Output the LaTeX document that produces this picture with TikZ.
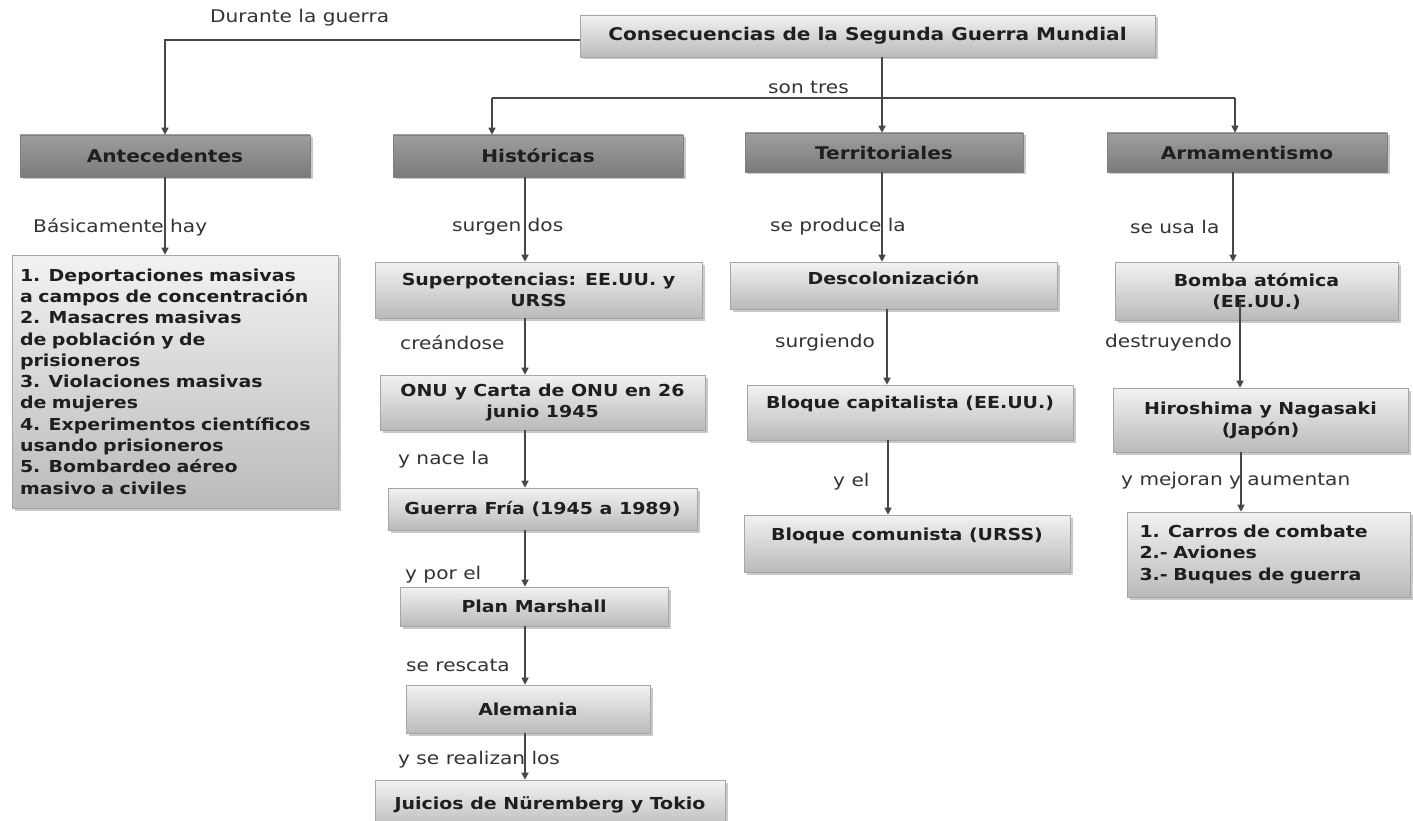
\documentclass[tikz,border=0pt]{standalone}
\usepackage{fontspec}
\setmainfont[FakeStretch=1.15]{DejaVu Sans}
\usetikzlibrary{arrows.meta,shadows}
\begin{document}
\begin{tikzpicture}[x=1pt,y=-1pt,
  box/.style={draw=black!35, line width=0.6pt, top color=black!5, bottom color=black!27,
    drop shadow={shadow xshift=2.5pt, shadow yshift=-2.5pt, fill=black!35, opacity=0.6},
    font=\bfseries\fontsize{16.5}{21}\selectfont, text=black!88, align=center, inner sep=2pt},
  head/.style={box, font=\bfseries\fontsize{17.5}{21}\selectfont},
  cat/.style={head, top color=black!38, bottom color=black!52, draw=black!50},
  lbl/.style={font=\fontsize{17.5}{21}\selectfont, text=black!80, anchor=west, inner sep=0pt},
  ln/.style={draw=black!72, line width=1.3pt},
  arr/.style={ln, -{Triangle[length=7pt,width=7pt]}}
]
\fill[white] (0,0) rectangle (1413,821);
\useasboundingbox (0,0) rectangle (1413,821);

% nodes
\node[head, minimum width=575, minimum height=42] (title) at (867.5,36) {Consecuencias de la Segunda Guerra Mundial};
\node[cat, minimum width=290, minimum height=42] (ant) at (165,156) {Antecedentes};
\node[cat, minimum width=290, minimum height=42] (his) at (538,156) {Históricas};
\node[cat, minimum width=278, minimum height=39] (ter) at (884,152.5) {Territoriales};
\node[cat, minimum width=280, minimum height=39] (arm) at (1247,152.5) {Armamentismo};

\node[box, minimum width=326, minimum height=253, align=left, text width=310,
  font=\bfseries\fontsize{16.5}{21.3}\selectfont] (list) at (175,381.5)
  {1. Deportaciones masivas\\a campos de concentración\\2. Masacres masivas\\de población y de\\prisioneros\\3. Violaciones masivas\\de mujeres\\4. Experimentos científicos\\usando prisioneros\\5. Bombardeo aéreo\\masivo a civiles};

\node[box, minimum width=327, minimum height=56] (sup) at (538.5,290) {Superpotencias: EE.UU. y\\URSS};
\node[box, minimum width=325, minimum height=55] (onu) at (542.5,402.5) {ONU y Carta de ONU en 26\\junio 1945};
\node[box, minimum width=309, minimum height=42] (gf) at (542.5,509) {Guerra Fría (1945 a 1989)};
\node[box, minimum width=268, minimum height=39] (pm) at (534,606.5) {Plan Marshall};
\node[box, minimum width=244, minimum height=48] (ale) at (528,709) {Alemania};
\node[box, minimum width=350, minimum height=50] (jui) at (550,805) {Juicios de Nüremberg y Tokio};

\node[box, minimum width=327, minimum height=47, text height=13, text depth=16] (des) at (893.5,285.5) {Descolonización};
\node[box, minimum width=326, minimum height=55, text height=13, text depth=22] (bc) at (910,412.5) {Bloque capitalista (EE.UU.)};
\node[box, minimum width=326, minimum height=57, text height=13, text depth=20] (bco) at (907,543.5) {Bloque comunista (URSS)};

\node[box, minimum width=283, minimum height=58] (bomb) at (1256.5,291) {Bomba atómica\\(EE.UU.)};
\node[box, minimum width=295, minimum height=64] (hir) at (1260.5,420) {Hiroshima y Nagasaki\\(Japón)};
\node[box, minimum width=283, minimum height=85, align=left, text width=258,
  font=\bfseries\fontsize{16.5}{21.5}\selectfont] (arl) at (1268.5,554.5)
  {1. Carros de combate\\2.- Aviones\\3.- Buques de guerra};

% labels
\node[lbl] (l1) at (210,18) {Durante la guerra};
\node[lbl] (l2) at (768,87) {son tres};
\node[lbl] (l3) at (33,227) {Básicamente hay};
\node[lbl] (l4) at (452,227) {surgen dos};
\node[lbl] (l5) at (400,343) {creándose};
\node[lbl] (l6) at (398,460) {y nace la};
\node[lbl] (l7) at (405,575) {y por el};
\node[lbl] (l8) at (406,665) {se rescata};
\node[lbl] (l9) at (398,760) {y se realizan los};
\node[lbl] (l10) at (770,227) {se produce la};
\node[lbl] (l11) at (775,343) {surgiendo};
\node[lbl] (l12) at (833,482) {y el};
\node[lbl] (l13) at (1130,227) {se usa la};
\node[lbl] (l14) at (1105,343) {destruyendo};
\node[lbl] (l15) at (1121,481) {y mejoran y aumentan};

% lanes
\coordinate (lh) at (525,0);
\coordinate (lt1) at (882,0);
\coordinate (lt2) at (887,0);
\coordinate (lt3) at (888,0);
\coordinate (la1) at (1233,0);
\coordinate (la3) at (1241,0);
\coordinate (sh) at (492,98);
\coordinate (sa) at (1235,98);
\coordinate (bs) at (1240,302);

% connectors
\draw[arr] ([yshift=-4pt]title.west) -| (ant.north);
\draw[arr] (title.south -| lt1) -- (ter.north -| lt1);
\draw[ln] (sh) -- (sa);
\draw[arr] (sh) -- (his.north -| sh);
\draw[arr] (sa) -- (arm.north -| sa);

\draw[arr] (ant.south) -- (list.north -| ant.south);

\draw[arr] (his.south -| lh) -- (sup.north -| lh);
\draw[arr] (sup.south -| lh) -- (onu.north -| lh);
\draw[arr] (onu.south -| lh) -- (gf.north -| lh);
\draw[arr] (gf.south -| lh) -- (pm.north -| lh);
\draw[arr] (pm.south -| lh) -- (ale.north -| lh);
\draw[arr] (ale.south -| lh) -- (jui.north -| lh);

\draw[arr] (ter.south -| lt1) -- (des.north -| lt1);
\draw[arr] (des.south -| lt2) -- (bc.north -| lt2);
\draw[arr] (bc.south -| lt3) -- (bco.north -| lt3);

\draw[arr] (arm.south -| la1) -- (bomb.north -| la1);
\draw[arr] (bs) -- (hir.north -| bs);
\draw[arr] (hir.south -| la3) -- (arl.north -| la3);
\end{tikzpicture}
\end{document}
